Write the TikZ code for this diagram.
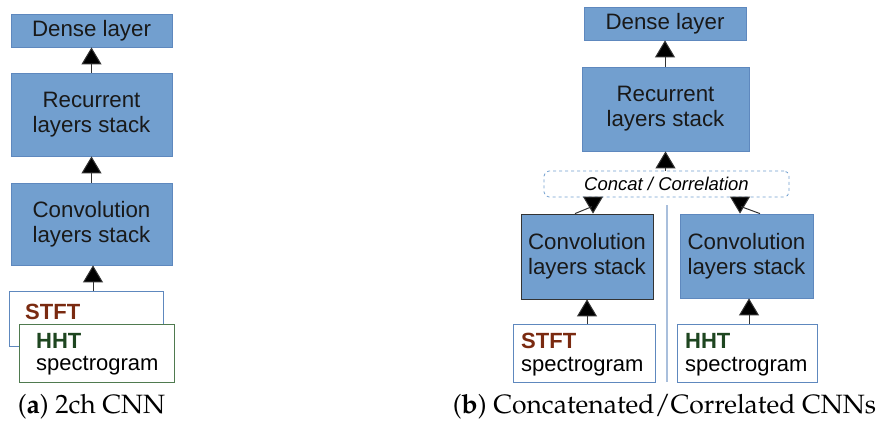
\documentclass[tikz,border=0pt]{standalone}
\usepackage[T1]{fontenc}
\usepackage{fontspec}
\newfontfamily\arialf{Liberation Sans}
\usetikzlibrary{arrows.meta,calc}
\definecolor{boxfill}{HTML}{729FCF}
\definecolor{boxline}{HTML}{5E88BE}
\definecolor{stftc}{HTML}{7A2A10}
\definecolor{hhtc}{HTML}{1E4620}
\definecolor{hhtline}{HTML}{4F7A4F}
\definecolor{arrc}{HTML}{333333}
\definecolor{sepc}{HTML}{A9BFDC}
\newcommand{\palfont}{\fontencoding{T1}\fontfamily{ppl}\selectfont}
\tikzset{
  blk/.style={draw=boxline, line width=0.8pt, fill=boxfill, align=center, inner sep=0pt,
    font=\arialf\fontsize{22.3}{25}\selectfont, text=black!90},
  inbox/.style={draw=boxline, line width=0.8pt, fill=white, inner sep=0pt},
  lbl/.style={anchor=base west, inner sep=0pt, font=\arialf\fontsize{22}{25}\selectfont},
  lblb/.style={lbl, font=\arialf\bfseries\fontsize{22}{25}\selectfont},
  arr/.style={draw=arrc, line width=1pt, -{Triangle[width=20pt,length=17pt,fill=black]}},
  captxt/.style={anchor=base, inner sep=0pt, font=\palfont\fontsize{26.5}{30}\selectfont}
}
\begin{document}
\begin{tikzpicture}[x=1pt,y=-1pt]
\useasboundingbox (0,0) rectangle (878,423);
% ---------- (a) ----------
\node[blk, minimum width=161pt, minimum height=33pt] (dA) at (91.5,30.5) {Dense layer};
\node[blk, minimum width=161pt, minimum height=83pt] (rA) at (91.5,114.5) {Recurrent\\layers stack};
\node[blk, minimum width=161pt, minimum height=82pt] (cA) at (91.5,224) {Convolution\\layers stack};
\node[inbox, minimum width=154pt, minimum height=55pt] (stA) at (86,318.5) {};
\node[inbox, draw=hhtline, minimum width=155pt, minimum height=58pt] (hhA) at (96.5,353) {};
\node[lblb, text=stftc] (stAt) at (25,319) {STFT};
\node[lblb, text=hhtc] (hhAt) at (36,348) {HHT};
\node[lbl] (spA) at (36,370) {spectrogram};
\draw[arr] (rA.north) -- (dA.south);
\draw[arr] (cA.north) -- (rA.south);
\draw[arr] ($(stA.north)+(7,0)$) -- ($(cA.south)+(1.5,0)$);
\node[captxt] (capA) at (91.5,413) {(\textbf{a}) 2ch CNN};
% ---------- (b) ----------
\node[blk, minimum width=162pt, minimum height=33pt] (dB) at (665,23.5) {Dense layer};
\node[blk, minimum width=167pt, minimum height=84pt] (rB) at (665.5,109) {Recurrent\\layers stack};
\node[draw=boxfill, dashed, rounded corners=5pt, line width=0.8pt, minimum width=245pt, minimum height=26pt,
  inner sep=0pt, font=\arialf\itshape\fontsize{18.5}{22}\selectfont] (cc) at (666.5,184) {Concat / Correlation};
\node[blk, draw=arrc, minimum width=132pt, minimum height=85pt] (cL) at (587,256.5) {Convolution\\layers stack};
\node[blk, minimum width=133pt, minimum height=84pt] (cR) at (746.5,256) {Convolution\\layers stack};
\node[inbox, minimum width=142pt, minimum height=58pt] (sL) at (584,353) {};
\node[inbox, minimum width=140pt, minimum height=58pt] (sR) at (747,353) {};
\node[lblb, text=stftc] (sLt) at (521,348) {STFT};
\node[lbl] (sLs) at (521,371) {spectrogram};
\node[lblb, text=hhtc] (sRt) at (685,348) {HHT};
\node[lbl] (sRs) at (685,371) {spectrogram};
\coordinate (sepT) at (667,205);
\coordinate (sepB) at (667,382);
\draw[sepc, line width=1.5pt] (sepT) -- (sepB);
\draw[arr] (rB.north -| dB.south) -- (dB.south);
\draw[arr] (cc.north -| rB.south) -- (rB.south);
\draw[arr] ($(cL.north)+(6,-15)$) -- ($(cL.north)+(6,0)$);
\draw[arrc, line width=1pt] ($(cL.north)+(-12,0)$) -- ($(cL.north)+(5,-7)$);
\draw[arr] ($(cR.north)+(-6.5,-15)$) -- ($(cR.north)+(-6.5,0)$);
\draw[arrc, line width=1pt] ($(cR.north)+(13.5,0)$) -- ($(cR.north)+(-5.5,-7)$);
\draw[arr] ($(sL.north)+(3,0)$) -- ($(cL.south)+(0,0)$);
\draw[arr] ($(sR.north)+(2,0)$) -- ($(cR.south)+(2.5,0)$);
\node[captxt] (capB) at (664.5,413) {(\textbf{b}) Concatenated/Correlated CNNs};
\end{tikzpicture}
\end{document}
